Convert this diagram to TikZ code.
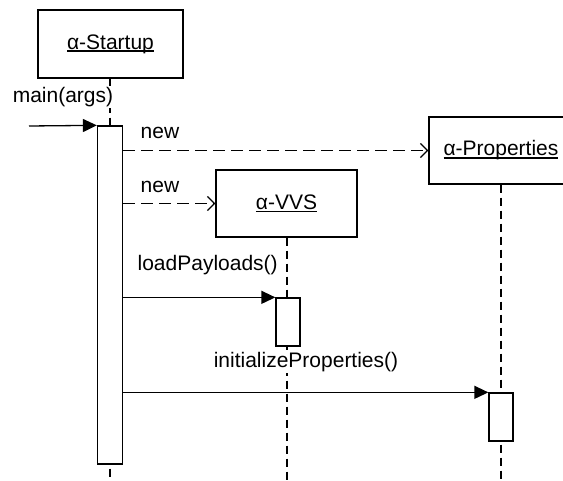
\documentclass[tikz,border=0pt]{standalone}
\usepackage{fontspec}
\setmainfont{Liberation Sans}
\usetikzlibrary{arrows.meta}
% underline set close below the baseline, as UML object names are drawn
\newcommand{\objname}[1]{\setbox0\hbox{#1}\rlap{\raisebox{-2.6pt}{\rule{\wd0}{1.3pt}}}\box0}
\begin{document}
\begin{tikzpicture}[x=1pt,y=-1pt,line width=1.3pt,
  font=\fontsize{21}{25}\selectfont,
  objbox/.style={draw,fill=white,rectangle,inner sep=0pt,minimum height=67pt},
  actbar/.style={draw,fill=white,rectangle,inner sep=0pt,minimum width=24pt},
  lifeline/.style={dash pattern=on 8pt off 5pt},
  callmsg/.style={-{Triangle[length=14pt,width=13pt]}},
  createmsg/.style={dash pattern=on 12pt off 6pt,-{Straight Barb[length=7pt,width=14pt]}},
  lbl/.style={inner sep=1pt,fill=white}]
\useasboundingbox (0,0) rectangle (563,481);
\clip (0,0) rectangle (563,481);

% objects
\node[objbox,minimum width=145pt,minimum height=68pt] (startup) at (110.5,44) {\objname{α-Startup}};
\node[objbox,minimum width=144pt] (props) at (501,150.5) {\objname{α-Properties}};
\node[objbox,minimum width=141pt] (vvs) at (286.5,203.5) {\objname{α-VVS}};

% lifelines
\coordinate (sEnd) at (110,481);
\coordinate (vEnd) at (287,481);
\coordinate (pEnd) at (501,481);
\draw[lifeline] (startup.south -| sEnd) -- (sEnd);
\draw[lifeline] (vvs.south -| vEnd) -- (vEnd);
\draw[lifeline] (props.south -| pEnd) -- (pEnd);

% activation bars
\node[actbar,minimum width=25pt,minimum height=338pt] (sbar) at (110,295) {};
\node[actbar,minimum height=48pt] (vbar) at (288,322) {};
\node[actbar,minimum height=48pt] (pbar) at (501,417) {};

% messages
\coordinate (caller) at (29,126);
\draw[callmsg] (caller) -- (sbar.north west);
\node[lbl] (lmain) at (63,97) {main(args)};

\coordinate (n1) at (sbar.east |- props.west);
\draw[createmsg] (n1) -- (props.west);
\node[lbl,anchor=west] (lnew1) at (139,133) {new};

\coordinate (n2) at (sbar.east |- vvs.west);
\draw[createmsg] (n2) -- (vvs.west);
\node[lbl,anchor=west] (lnew2) at (139,187) {new};

\coordinate (m1) at (sbar.east |- vbar.north);
\draw[callmsg] (m1) -- (vbar.north west);
\node[lbl,anchor=west] (lload) at (136,265) {loadPayloads()};

\coordinate (m2) at (sbar.east |- pbar.north);
\draw[callmsg] (m2) -- (pbar.north west);
\node[lbl] (linit) at (306,362) {initializeProperties()};
\end{tikzpicture}
\end{document}
